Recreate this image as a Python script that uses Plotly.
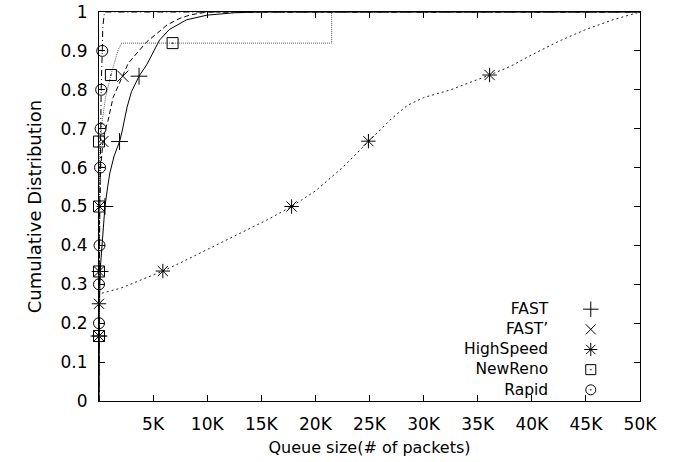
import plotly.graph_objects as go

# ---------------- data ----------------
fast_x = [0, 0, 50, 100, 300, 550, 800, 1000, 1400, 1900, 2100, 2600, 3000, 3500, 3700, 4400, 5000, 5600, 6500, 8100, 10000, 12500, 15000, 50000]
fast_y = [0, 0.167, 0.25, 0.333, 0.42, 0.5, 0.55, 0.586, 0.63, 0.667, 0.689, 0.756, 0.795, 0.825, 0.835, 0.864, 0.895, 0.928, 0.955, 0.98, 0.992, 0.998, 1.0, 1.0]
fast_mx = [0, 100, 550, 1900, 3700]
fast_my = [0.167, 0.333, 0.5, 0.667, 0.835]

fastp_x = [0, 0, 0, 50, 150, 370, 600, 830, 1300, 2100, 2200, 2700, 3500, 4400, 5400, 6300, 7500, 8500, 10000, 50000]
fastp_y = [0, 0.167, 0.333, 0.5, 0.6, 0.667, 0.7, 0.72, 0.78, 0.83, 0.835, 0.868, 0.894, 0.923, 0.946, 0.967, 0.984, 0.993, 1.0, 1.0]
fastp_mx = [0, 0, 50, 370, 2200]
fastp_my = [0.167, 0.333, 0.5, 0.667, 0.835]

hs_x = [0, 0, 0, 2000, 3800, 5900, 7500, 10000, 13000, 15500, 17800, 20000, 22500, 24900, 27000, 28500, 30000, 32500, 35000, 36100, 38000, 40000, 42500, 45000, 47500, 50000]
hs_y = [0, 0.25, 0.275, 0.29, 0.311, 0.334, 0.355, 0.39, 0.432, 0.465, 0.5, 0.54, 0.6, 0.668, 0.725, 0.76, 0.78, 0.8, 0.825, 0.838, 0.86, 0.89, 0.925, 0.955, 0.98, 1.0]
hs_mx = [0, 0, 5900, 17800, 24900, 36100]
hs_my = [0.167, 0.25, 0.334, 0.5, 0.668, 0.838]

nr_x = [0, 0, 0, 0, 50, 100, 300, 600, 900, 1100, 1500, 1800, 2100, 6800, 21500, 21500, 50000]
nr_y = [0, 0.167, 0.333, 0.5, 0.6, 0.667, 0.72, 0.78, 0.82, 0.838, 0.877, 0.905, 0.92, 0.92, 0.92, 1.0, 1.0]
nr_mx = [0, 0, 0, 0, 1100, 6800]
nr_my = [0.167, 0.333, 0.5, 0.667, 0.838, 0.92]

rp_x = [0, 0, 0, 50, 80, 100, 150, 200, 300, 350, 500, 50000]
rp_y = [0, 0.2, 0.3, 0.4, 0.5, 0.6, 0.7, 0.8, 0.9, 0.96, 1.0, 1.0]
rp_mx = [0, 0, 50, 100, 150, 200, 300]
rp_my = [0.2, 0.3, 0.4, 0.6, 0.7, 0.8, 0.9]

names = ["FAST", "FAST\u2019", "HighSpeed", "NewReno", "Rapid"]
x_tickvals = [5000, 10000, 15000, 20000, 25000, 30000, 35000, 40000, 45000, 50000]
x_ticktext = ["5K", "10K", "15K", "20K", "25K", "30K", "35K", "40K", "45K", "50K"]
y_tickvals = [0, 0.1, 0.2, 0.3, 0.4, 0.5, 0.6, 0.7, 0.8, 0.9, 1]
y_ticktext = ["0", "0.1", "0.2", "0.3", "0.4", "0.5", "0.6", "0.7", "0.8", "0.9", "1"]

# ---------------- style ----------------
FONT = "DejaVu Sans, Liberation Sans, Arial, sans-serif"
series = [
    (fast_x, fast_y, fast_mx, fast_my, "solid", "black", "cross-thin-open", 12),
    (fastp_x, fastp_y, fastp_mx, fastp_my, "5px,3px", "black", "x-thin-open", 11),
    (hs_x, hs_y, hs_mx, hs_my, "2px,3px", "#222", "asterisk-open", 12),
    (nr_x, nr_y, nr_mx, nr_my, "1px,1px", "#555", "square-open-dot", 11),
    (rp_x, rp_y, rp_mx, rp_my, "6px,3px,1px,3px", "black", "circle-open-dot", 11),
]

fig = go.Figure()
for (lx, ly, mx, my, dash, col, sym, sz), nm in zip(series, names):
    fig.add_trace(go.Scatter(x=lx, y=ly, mode="lines", name=nm, showlegend=False,
                             line=dict(color=col, width=1, dash=dash), cliponaxis=False,
                             hoverinfo="skip"))
    fig.add_trace(go.Scatter(x=mx, y=my, mode="markers", name=nm, showlegend=False,
                             marker=dict(symbol=sym, size=sz, color="black",
                                         line=dict(color="black", width=1)),
                             cliponaxis=False))

# custom legend (text right aligned in one block, symbols on the right)
LEG_FONT = 15.5
plot_h = 462 - 12 - 61
leg_center = 0.1324
leg_dy = LEG_FONT * 1.3 / plot_h
leg_text_x = 0.836
leg_sym_x = 0.909
n = len(names)
leg_ys = [leg_center + ((n - 1) / 2 - i) * leg_dy for i in range(n)]
fig.add_annotation(x=leg_text_x, y=leg_center, xref="paper", yref="paper",
                   text="<br>".join(names), align="right",
                   showarrow=False, xanchor="right", yanchor="middle",
                   font=dict(family=FONT, size=LEG_FONT, color="black"))
for (lx, ly, mx, my, dash, col, sym, sz), yy in zip(series, leg_ys):
    fig.add_trace(go.Scatter(x=[leg_sym_x], y=[yy], xaxis="x2", yaxis="y2", mode="markers",
                             showlegend=False, hoverinfo="skip", cliponaxis=False,
                             marker=dict(symbol=sym, size=sz - 1, color="black",
                                         line=dict(color="black", width=1))))

axis_common = dict(showline=True, linecolor="black", linewidth=1, mirror="ticks",
                   ticks="inside", ticklen=6, tickcolor="black", tickwidth=1,
                   showgrid=False, zeroline=False, automargin=False,
                   tickfont=dict(family=FONT, size=17, color="black"))

fig.update_layout(
    width=674, height=462,
    margin=dict(l=99, r=34, t=12, b=61),
    paper_bgcolor="white", plot_bgcolor="white",
    showlegend=False,
    xaxis=dict(range=[0, 50000], tickvals=x_tickvals, ticktext=x_ticktext,
               ticklabelstandoff=8,
               title=dict(text="Queue size(# of packets)", standoff=8,
                          font=dict(family=FONT, size=16, color="black")),
               **axis_common),
    yaxis=dict(range=[0, 1], tickvals=y_tickvals, ticktext=y_ticktext,
               ticklabelstandoff=7,
               title=dict(text="Cumulative Distribution", standoff=14,
                          font=dict(family=FONT, size=18, color="black")),
               **axis_common),
    xaxis2=dict(range=[0, 1], overlaying="x", visible=False, fixedrange=True),
    yaxis2=dict(range=[0, 1], overlaying="y", visible=False, fixedrange=True),
)

fig.write_html("out.html")
